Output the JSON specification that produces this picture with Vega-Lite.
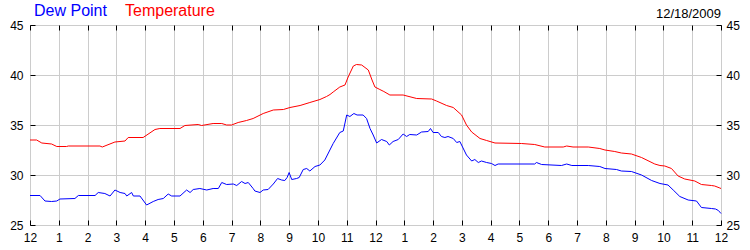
{
  "$schema": "https://vega.github.io/schema/vega-lite/v6.json",
  "width": 691,
  "height": 200,
  "autosize": "none",
  "padding": {"left": 30, "top": 25, "right": 29, "bottom": 25},
  "background": "white",
  "title": {"text": "12/18/2009", "anchor": "end", "frame": "group", "fontSize": 13, "fontWeight": "normal", "font": "Liberation Sans", "color": "black", "baseline": "alphabetic", "offset": -28},
  "config": {
    "view": {"stroke": "black", "strokeWidth": 1},
    "axis": {"labelFont": "Liberation Sans", "labelFontSize": 12, "labelColor": "black", "tickColor": "black", "gridColor": "#cccccc", "gridOpacity": 1, "title": null, "domain": false}
  },
  "datasets": {
    "weather": [
      {"s":"Temperature","h":0,"v":33.5},{"s":"Temperature","h":0.23,"v":33.5},{"s":"Temperature","h":0.41,"v":33.2},{"s":"Temperature","h":0.75,"v":33.1},{"s":"Temperature","h":0.93,"v":32.85},{"s":"Temperature","h":1.27,"v":32.85},{"s":"Temperature","h":1.33,"v":32.9},{"s":"Temperature","h":2.43,"v":32.9},{"s":"Temperature","h":2.51,"v":32.8},{"s":"Temperature","h":2.95,"v":33.3},{"s":"Temperature","h":3.3,"v":33.4},{"s":"Temperature","h":3.41,"v":33.75},{"s":"Temperature","h":3.93,"v":33.75},{"s":"Temperature","h":4.34,"v":34.55},{"s":"Temperature","h":4.51,"v":34.65},{"s":"Temperature","h":5.21,"v":34.65},{"s":"Temperature","h":5.38,"v":34.95},{"s":"Temperature","h":5.84,"v":35.05},{"s":"Temperature","h":5.96,"v":34.95},{"s":"Temperature","h":6.36,"v":35.15},{"s":"Temperature","h":6.66,"v":35.15},{"s":"Temperature","h":6.83,"v":35.0},{"s":"Temperature","h":7.0,"v":35.0},{"s":"Temperature","h":7.23,"v":35.25},{"s":"Temperature","h":7.52,"v":35.45},{"s":"Temperature","h":7.75,"v":35.65},{"s":"Temperature","h":8.1,"v":36.15},{"s":"Temperature","h":8.45,"v":36.5},{"s":"Temperature","h":8.8,"v":36.55},{"s":"Temperature","h":9.03,"v":36.75},{"s":"Temperature","h":9.38,"v":36.95},{"s":"Temperature","h":9.72,"v":37.25},{"s":"Temperature","h":10.07,"v":37.55},{"s":"Temperature","h":10.3,"v":37.85},{"s":"Temperature","h":10.42,"v":38.05},{"s":"Temperature","h":10.53,"v":38.3},{"s":"Temperature","h":10.76,"v":38.8},{"s":"Temperature","h":10.94,"v":39.0},{"s":"Temperature","h":11.05,"v":39.8},{"s":"Temperature","h":11.23,"v":40.9},{"s":"Temperature","h":11.34,"v":41.05},{"s":"Temperature","h":11.52,"v":41.0},{"s":"Temperature","h":11.75,"v":40.5},{"s":"Temperature","h":11.88,"v":39.5},{"s":"Temperature","h":11.98,"v":38.8},{"s":"Temperature","h":12.15,"v":38.55},{"s":"Temperature","h":12.29,"v":38.35},{"s":"Temperature","h":12.5,"v":38.0},{"s":"Temperature","h":12.96,"v":38.0},{"s":"Temperature","h":13.43,"v":37.65},{"s":"Temperature","h":13.95,"v":37.6},{"s":"Temperature","h":14.12,"v":37.4},{"s":"Temperature","h":14.47,"v":36.95},{"s":"Temperature","h":14.7,"v":36.75},{"s":"Temperature","h":14.99,"v":36.0},{"s":"Temperature","h":15.16,"v":35.0},{"s":"Temperature","h":15.34,"v":34.3},{"s":"Temperature","h":15.63,"v":33.65},{"s":"Temperature","h":15.86,"v":33.45},{"s":"Temperature","h":16.15,"v":33.2},{"s":"Temperature","h":17.07,"v":33.15},{"s":"Temperature","h":17.53,"v":33.05},{"s":"Temperature","h":17.88,"v":32.8},{"s":"Temperature","h":18.52,"v":32.8},{"s":"Temperature","h":18.64,"v":32.9},{"s":"Temperature","h":18.86,"v":32.8},{"s":"Temperature","h":19.39,"v":32.8},{"s":"Temperature","h":19.79,"v":32.65},{"s":"Temperature","h":19.97,"v":32.5},{"s":"Temperature","h":20.31,"v":32.35},{"s":"Temperature","h":20.54,"v":32.2},{"s":"Temperature","h":20.89,"v":32.1},{"s":"Temperature","h":21.24,"v":31.75},{"s":"Temperature","h":21.7,"v":31.1},{"s":"Temperature","h":21.88,"v":30.95},{"s":"Temperature","h":22.05,"v":30.9},{"s":"Temperature","h":22.28,"v":30.65},{"s":"Temperature","h":22.51,"v":29.9},{"s":"Temperature","h":22.74,"v":29.6},{"s":"Temperature","h":23.09,"v":29.4},{"s":"Temperature","h":23.32,"v":29.05},{"s":"Temperature","h":23.67,"v":28.95},{"s":"Temperature","h":23.78,"v":28.9},{"s":"Temperature","h":23.96,"v":28.7},{"s":"Temperature","h":24,"v":28.65},
      {"s":"Dew Point","h":0,"v":27.95},{"s":"Dew Point","h":0.35,"v":27.95},{"s":"Dew Point","h":0.52,"v":27.4},{"s":"Dew Point","h":0.75,"v":27.35},{"s":"Dew Point","h":0.93,"v":27.4},{"s":"Dew Point","h":1.04,"v":27.6},{"s":"Dew Point","h":1.56,"v":27.65},{"s":"Dew Point","h":1.68,"v":27.95},{"s":"Dew Point","h":2.26,"v":27.95},{"s":"Dew Point","h":2.37,"v":28.25},{"s":"Dew Point","h":2.6,"v":28.15},{"s":"Dew Point","h":2.78,"v":27.9},{"s":"Dew Point","h":2.95,"v":28.5},{"s":"Dew Point","h":3.13,"v":28.25},{"s":"Dew Point","h":3.3,"v":28.15},{"s":"Dew Point","h":3.36,"v":27.9},{"s":"Dew Point","h":3.53,"v":28.25},{"s":"Dew Point","h":3.59,"v":27.9},{"s":"Dew Point","h":3.82,"v":27.9},{"s":"Dew Point","h":4.05,"v":27.0},{"s":"Dew Point","h":4.28,"v":27.35},{"s":"Dew Point","h":4.45,"v":27.55},{"s":"Dew Point","h":4.63,"v":27.65},{"s":"Dew Point","h":4.8,"v":28.1},{"s":"Dew Point","h":4.92,"v":27.9},{"s":"Dew Point","h":5.21,"v":27.9},{"s":"Dew Point","h":5.44,"v":28.5},{"s":"Dew Point","h":5.56,"v":28.25},{"s":"Dew Point","h":5.67,"v":28.55},{"s":"Dew Point","h":5.9,"v":28.65},{"s":"Dew Point","h":6.14,"v":28.5},{"s":"Dew Point","h":6.36,"v":28.65},{"s":"Dew Point","h":6.54,"v":28.65},{"s":"Dew Point","h":6.66,"v":29.25},{"s":"Dew Point","h":6.83,"v":29.05},{"s":"Dew Point","h":7.06,"v":29.1},{"s":"Dew Point","h":7.18,"v":28.95},{"s":"Dew Point","h":7.35,"v":29.35},{"s":"Dew Point","h":7.47,"v":29.15},{"s":"Dew Point","h":7.58,"v":29.25},{"s":"Dew Point","h":7.75,"v":28.65},{"s":"Dew Point","h":7.81,"v":28.4},{"s":"Dew Point","h":7.99,"v":28.25},{"s":"Dew Point","h":8.1,"v":28.5},{"s":"Dew Point","h":8.27,"v":28.55},{"s":"Dew Point","h":8.45,"v":29.1},{"s":"Dew Point","h":8.6,"v":29.65},{"s":"Dew Point","h":8.74,"v":29.5},{"s":"Dew Point","h":8.85,"v":29.45},{"s":"Dew Point","h":8.93,"v":29.75},{"s":"Dew Point","h":9.0,"v":30.25},{"s":"Dew Point","h":9.09,"v":29.55},{"s":"Dew Point","h":9.26,"v":29.65},{"s":"Dew Point","h":9.35,"v":29.75},{"s":"Dew Point","h":9.49,"v":30.55},{"s":"Dew Point","h":9.61,"v":30.65},{"s":"Dew Point","h":9.72,"v":30.4},{"s":"Dew Point","h":9.9,"v":30.85},{"s":"Dew Point","h":10.07,"v":31.0},{"s":"Dew Point","h":10.24,"v":31.5},{"s":"Dew Point","h":10.53,"v":33.15},{"s":"Dew Point","h":10.76,"v":34.25},{"s":"Dew Point","h":10.88,"v":34.4},{"s":"Dew Point","h":11.0,"v":36.0},{"s":"Dew Point","h":11.11,"v":35.85},{"s":"Dew Point","h":11.25,"v":36.15},{"s":"Dew Point","h":11.36,"v":36.0},{"s":"Dew Point","h":11.57,"v":36.0},{"s":"Dew Point","h":11.69,"v":35.65},{"s":"Dew Point","h":11.81,"v":34.65},{"s":"Dew Point","h":11.92,"v":34.0},{"s":"Dew Point","h":12.04,"v":33.2},{"s":"Dew Point","h":12.21,"v":33.55},{"s":"Dew Point","h":12.39,"v":33.35},{"s":"Dew Point","h":12.48,"v":33.0},{"s":"Dew Point","h":12.61,"v":33.35},{"s":"Dew Point","h":12.79,"v":33.55},{"s":"Dew Point","h":12.96,"v":34.1},{"s":"Dew Point","h":13.08,"v":33.85},{"s":"Dew Point","h":13.19,"v":34.05},{"s":"Dew Point","h":13.43,"v":34.0},{"s":"Dew Point","h":13.6,"v":34.3},{"s":"Dew Point","h":13.83,"v":34.35},{"s":"Dew Point","h":13.91,"v":34.65},{"s":"Dew Point","h":14.0,"v":34.25},{"s":"Dew Point","h":14.18,"v":34.25},{"s":"Dew Point","h":14.29,"v":33.85},{"s":"Dew Point","h":14.41,"v":33.75},{"s":"Dew Point","h":14.52,"v":33.85},{"s":"Dew Point","h":14.7,"v":33.65},{"s":"Dew Point","h":14.82,"v":33.25},{"s":"Dew Point","h":14.93,"v":33.35},{"s":"Dew Point","h":15.16,"v":32.0},{"s":"Dew Point","h":15.34,"v":31.4},{"s":"Dew Point","h":15.45,"v":31.55},{"s":"Dew Point","h":15.57,"v":31.25},{"s":"Dew Point","h":15.68,"v":31.4},{"s":"Dew Point","h":15.86,"v":31.25},{"s":"Dew Point","h":16.03,"v":31.15},{"s":"Dew Point","h":16.15,"v":30.95},{"s":"Dew Point","h":16.26,"v":31.1},{"s":"Dew Point","h":17.53,"v":31.1},{"s":"Dew Point","h":17.59,"v":31.25},{"s":"Dew Point","h":17.77,"v":31.05},{"s":"Dew Point","h":18.46,"v":30.95},{"s":"Dew Point","h":18.64,"v":31.1},{"s":"Dew Point","h":18.82,"v":30.95},{"s":"Dew Point","h":19.39,"v":30.95},{"s":"Dew Point","h":19.79,"v":30.85},{"s":"Dew Point","h":19.97,"v":30.65},{"s":"Dew Point","h":20.37,"v":30.55},{"s":"Dew Point","h":20.54,"v":30.4},{"s":"Dew Point","h":20.89,"v":30.35},{"s":"Dew Point","h":21.24,"v":30.0},{"s":"Dew Point","h":21.59,"v":29.45},{"s":"Dew Point","h":21.88,"v":29.15},{"s":"Dew Point","h":22.16,"v":29.0},{"s":"Dew Point","h":22.34,"v":28.5},{"s":"Dew Point","h":22.57,"v":27.85},{"s":"Dew Point","h":22.86,"v":27.5},{"s":"Dew Point","h":23.15,"v":27.4},{"s":"Dew Point","h":23.32,"v":26.75},{"s":"Dew Point","h":23.67,"v":26.65},{"s":"Dew Point","h":23.81,"v":26.6},{"s":"Dew Point","h":23.91,"v":26.45},{"s":"Dew Point","h":24,"v":26.15}
    ]
  },
  "data": {"name": "weather"},
  "layer": [
    {
      "mark": {"type": "line", "strokeWidth": 1, "interpolate": "linear"},
      "encoding": {
        "x": {"field": "h", "type": "quantitative", "scale": {"domain": [0, 24], "nice": false, "zero": false},
          "axis": {"orient": "bottom", "grid": true, "ticks": false, "labels": true, "values": [0,1,2,3,4,5,6,7,8,9,10,11,12,13,14,15,16,17,18,19,20,21,22,23,24], "labelExpr": "datum.value % 12 == 0 ? '12' : '' + (datum.value % 12)", "labelPadding": 7, "labelFlush": false, "labelOverlap": false}},
        "y": {"field": "v", "type": "quantitative", "scale": {"domain": [25, 45], "nice": false, "zero": false},
          "axis": {"orient": "left", "grid": true, "ticks": false, "labels": false, "values": [25, 30, 35, 40, 45]}},
        "color": {"field": "s", "type": "nominal",
          "scale": {"domain": ["Dew Point", "Temperature"], "range": ["#0000ff", "#ff0000"]},
          "legend": {"orient": "none", "legendX": -12, "legendY": -22, "direction": "horizontal", "title": null,
            "symbolSize": 0, "symbolOpacity": 0, "symbolStrokeWidth": 0, "labelOffset": 0, "columnPadding": 2,
            "labelFont": "Liberation Sans", "labelFontSize": 16, "labelLimit": 0,
            "encode": {"labels": {"update": {"fill": {"signal": "datum.label == 'Dew Point' ? '#0000ff' : '#ff0000'"}}}}}}
      }
    },
    {
      "mark": {"type": "point", "opacity": 0},
      "encoding": {
        "x": {"field": "h", "type": "quantitative",
          "axis": {"orient": "bottom", "offset": -5, "tickSize": 5, "labels": false, "grid": false, "values": [0,1,2,3,4,5,6,7,8,9,10,11,12,13,14,15,16,17,18,19,20,21,22,23,24]}},
        "y": {"field": "v", "type": "quantitative",
          "axis": {"orient": "left", "offset": -5, "tickSize": 5, "labels": true, "grid": false, "labelPadding": 7, "values": [25, 30, 35, 40, 45]}}
      }
    },
    {
      "mark": {"type": "point", "opacity": 0},
      "encoding": {
        "x": {"field": "h", "type": "quantitative",
          "axis": {"orient": "top", "offset": -5, "tickSize": 5, "labels": false, "grid": false, "values": [0,1,2,3,4,5,6,7,8,9,10,11,12,13,14,15,16,17,18,19,20,21,22,23,24]}},
        "y": {"field": "v", "type": "quantitative",
          "axis": {"orient": "right", "offset": -5, "tickSize": 5, "labels": true, "grid": false, "labelPadding": 5, "values": [25, 30, 35, 40, 45]}}
      }
    }
  ],
  "resolve": {"axis": {"x": "independent", "y": "independent"}}
}
